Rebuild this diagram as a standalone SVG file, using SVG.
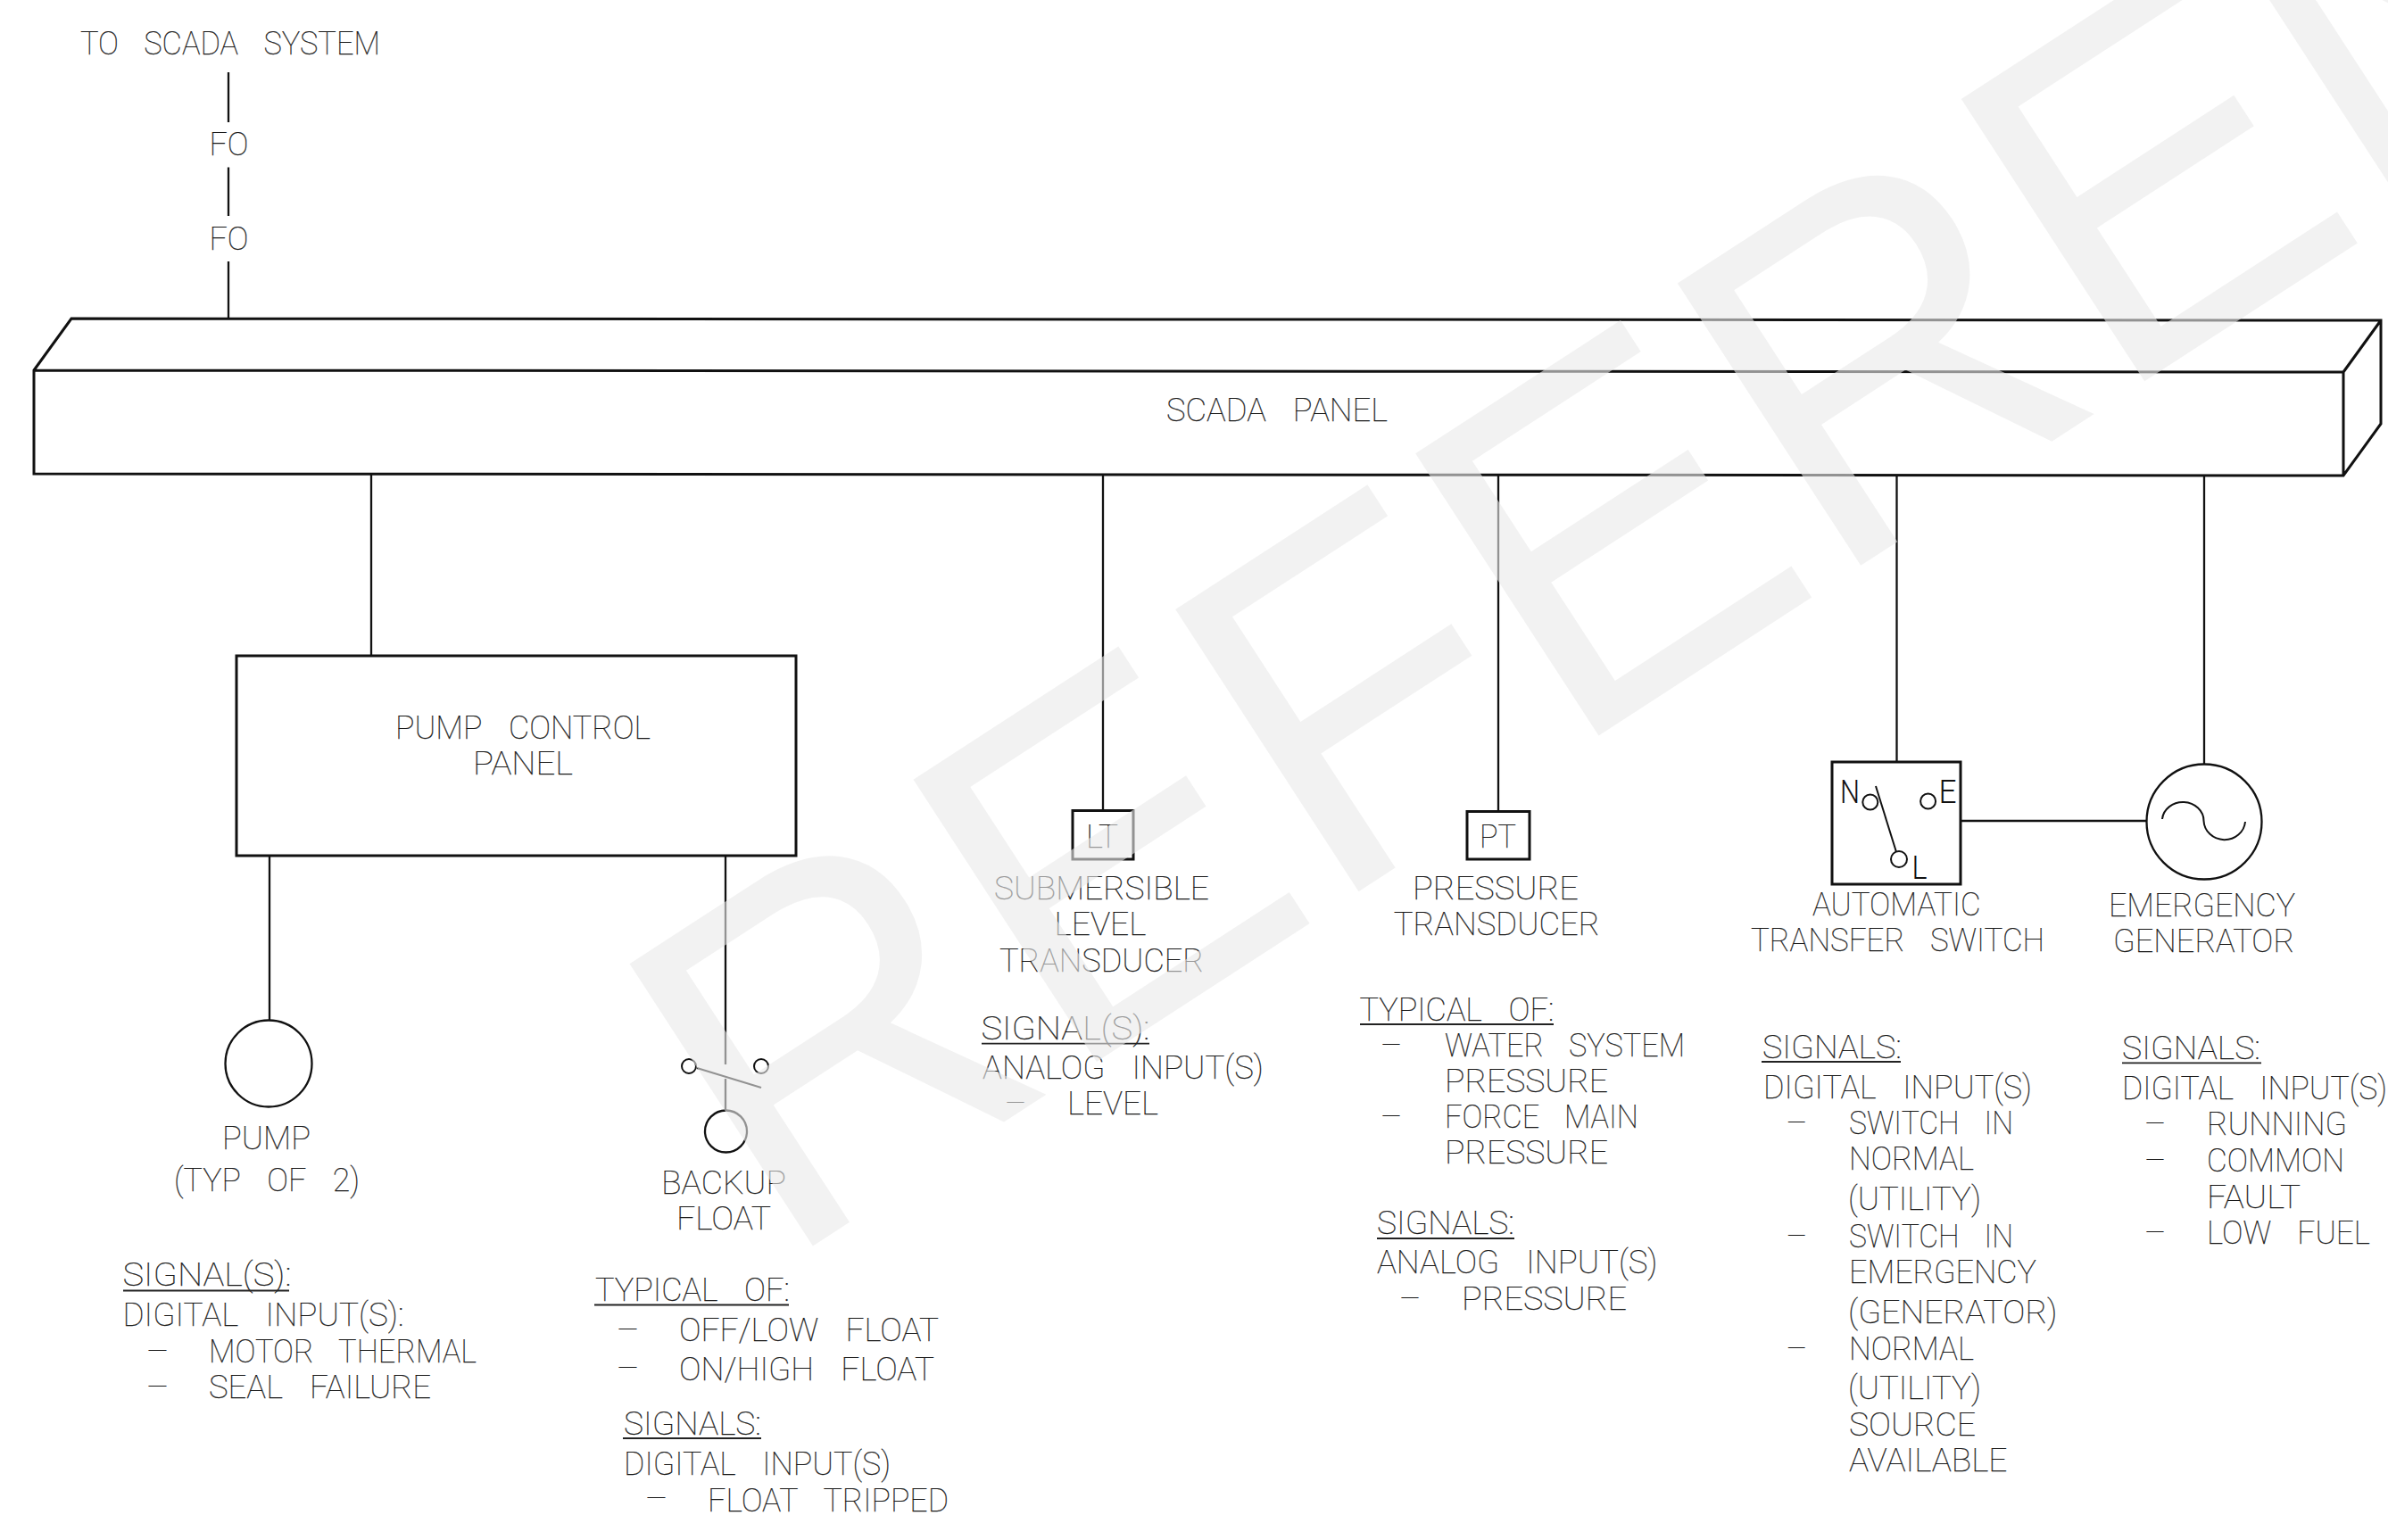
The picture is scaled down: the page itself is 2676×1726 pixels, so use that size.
<svg xmlns="http://www.w3.org/2000/svg" width="2676" height="1726" viewBox="0 0 2676 1726">
<style>
.l{fill:none;stroke:#111;stroke-width:2.3}
.b{fill:none;stroke:#111;stroke-width:3}
.c{fill:none;stroke:#111;stroke-width:2}
.t{font-family:Roboto,"Liberation Sans",sans-serif;font-weight:100;font-size:36px;fill:#1a1a1a;word-spacing:21px;stroke:#1a1a1a;stroke-width:.25}
.s{font-family:Roboto,"Liberation Sans",sans-serif;font-weight:300;font-size:36px;fill:#111}
.u{fill:none;stroke:#222;stroke-width:1.8}
.wm{font-family:"Liberation Sans",sans-serif;font-size:525px;fill:#e9e9e9;fill-opacity:.6}
</style>
<rect width="2676" height="1726" fill="#fff"/>
<g id="connectors" class="l">
<path d="M256 81V137M256 187.500V242M256 293V357"/>
<path d="M416 531V735M1236 532V908M1679 532V910M2125.500 533V854M2470 533V856"/>
<path d="M302 959V1143M813 959V1193M813 1209V1245"/>
<path d="M2197 920H2406"/>
</g>
<g id="to-scada">
<text class="t" x="90" y="61" textLength="336" lengthAdjust="spacingAndGlyphs">TO SCADA SYSTEM</text>
<text class="t" x="234.500" y="174" textLength="44" lengthAdjust="spacingAndGlyphs">FO</text>
<text class="t" x="234.500" y="280" textLength="44" lengthAdjust="spacingAndGlyphs">FO</text>
</g>
<g id="scada-panel">
<path class="b" d="M38 415L80 357L2668 359V475L2626 533L38 531ZM38 415L2626 417V533M2626 417L2668 359"/>
<text class="t" x="1307" y="471.500" textLength="248" lengthAdjust="spacingAndGlyphs">SCADA PANEL</text>
</g>
<g id="pump-control-panel">
<rect class="b" x="265" y="735" width="627" height="224"/>
<text class="t" x="443" y="827.500" textLength="286" lengthAdjust="spacingAndGlyphs">PUMP CONTROL</text>
<text class="t" x="530" y="867.500" textLength="112" lengthAdjust="spacingAndGlyphs">PANEL</text>
</g>
<g id="pump">
<circle class="l" cx="301" cy="1192" r="48.500"/>
<text class="t" x="249" y="1288.400" textLength="99" lengthAdjust="spacingAndGlyphs">PUMP</text>
<text class="t" x="195" y="1335" textLength="208" lengthAdjust="spacingAndGlyphs">(TYP OF 2)</text>
<text class="t" x="137.500" y="1441" textLength="189" lengthAdjust="spacingAndGlyphs">SIGNAL(S):</text>
<path class="u" d="M138 1446.500H324"/>
<text class="t" x="137.500" y="1486" textLength="315" lengthAdjust="spacingAndGlyphs">DIGITAL INPUT(S):</text>
<text class="t" x="165" y="1527" textLength="23" lengthAdjust="spacingAndGlyphs">—</text>
<text class="t" x="234" y="1527" textLength="300" lengthAdjust="spacingAndGlyphs">MOTOR THERMAL</text>
<text class="t" x="165" y="1567" textLength="23" lengthAdjust="spacingAndGlyphs">—</text>
<text class="t" x="234" y="1567" textLength="249" lengthAdjust="spacingAndGlyphs">SEAL FAILURE</text>
</g>
<g id="backup-float">
<circle class="c" cx="772" cy="1195" r="8"/>
<circle class="c" cx="853" cy="1195" r="8"/>
<path class="c" d="M781 1197L853 1219"/>
<circle class="l" cx="813.500" cy="1268" r="23.500"/>
<text class="t" x="741" y="1338" textLength="140" lengthAdjust="spacingAndGlyphs">BACKUP</text>
<text class="t" x="758" y="1377.500" textLength="106" lengthAdjust="spacingAndGlyphs">FLOAT</text>
<text class="t" x="667" y="1458" textLength="218" lengthAdjust="spacingAndGlyphs">TYPICAL OF:</text>
<path class="u" d="M666 1462.500H884"/>
<text class="t" x="692" y="1503" textLength="23" lengthAdjust="spacingAndGlyphs">—</text>
<text class="t" x="761" y="1503" textLength="291" lengthAdjust="spacingAndGlyphs">OFF/LOW FLOAT</text>
<text class="t" x="692" y="1546" textLength="23" lengthAdjust="spacingAndGlyphs">—</text>
<text class="t" x="761" y="1547" textLength="286" lengthAdjust="spacingAndGlyphs">ON/HIGH FLOAT</text>
<text class="t" x="699" y="1608" textLength="154" lengthAdjust="spacingAndGlyphs">SIGNALS:</text>
<path class="u" d="M698 1612H853"/>
<text class="t" x="699" y="1653" textLength="299" lengthAdjust="spacingAndGlyphs">DIGITAL INPUT(S)</text>
<text class="t" x="724" y="1692" textLength="23" lengthAdjust="spacingAndGlyphs">—</text>
<text class="t" x="793" y="1694" textLength="270" lengthAdjust="spacingAndGlyphs">FLOAT TRIPPED</text>
</g>
<g id="level-transducer">
<rect class="b" x="1202" y="908.500" width="68" height="54.500"/>
<text class="t" x="1217" y="950" textLength="36" lengthAdjust="spacingAndGlyphs">LT</text>
<text class="t" x="1114" y="1008" textLength="241" lengthAdjust="spacingAndGlyphs">SUBMERSIBLE</text>
<text class="t" x="1181.500" y="1048.400" textLength="103" lengthAdjust="spacingAndGlyphs">LEVEL</text>
<text class="t" x="1120" y="1088.600" textLength="229" lengthAdjust="spacingAndGlyphs">TRANSDUCER</text>
<text class="t" x="1099.400" y="1165" textLength="189" lengthAdjust="spacingAndGlyphs">SIGNAL(S):</text>
<path class="u" d="M1100 1169.700H1288"/>
<text class="t" x="1101" y="1209" textLength="315" lengthAdjust="spacingAndGlyphs">ANALOG INPUT(S)</text>
<text class="t" x="1127" y="1249" textLength="22" lengthAdjust="spacingAndGlyphs">—</text>
<text class="t" x="1196" y="1249" textLength="102" lengthAdjust="spacingAndGlyphs">LEVEL</text>
</g>
<g id="pressure-transducer">
<rect class="b" x="1644" y="909.500" width="70" height="53.500"/>
<text class="t" x="1658" y="949.600" textLength="41" lengthAdjust="spacingAndGlyphs">PT</text>
<text class="t" x="1583" y="1008" textLength="186" lengthAdjust="spacingAndGlyphs">PRESSURE</text>
<text class="t" x="1561.700" y="1048.400" textLength="231" lengthAdjust="spacingAndGlyphs">TRANSDUCER</text>
<text class="t" x="1523.400" y="1144" textLength="218" lengthAdjust="spacingAndGlyphs">TYPICAL OF:</text>
<path class="u" d="M1524 1148H1741"/>
<text class="t" x="1548" y="1184" textLength="22" lengthAdjust="spacingAndGlyphs">—</text>
<text class="t" x="1619" y="1184" textLength="269" lengthAdjust="spacingAndGlyphs">WATER SYSTEM</text>
<text class="t" x="1619" y="1224.400" textLength="183" lengthAdjust="spacingAndGlyphs">PRESSURE</text>
<text class="t" x="1548" y="1263.500" textLength="22" lengthAdjust="spacingAndGlyphs">—</text>
<text class="t" x="1619" y="1263.500" textLength="217" lengthAdjust="spacingAndGlyphs">FORCE MAIN</text>
<text class="t" x="1619" y="1304" textLength="183" lengthAdjust="spacingAndGlyphs">PRESSURE</text>
<text class="t" x="1543" y="1383" textLength="154" lengthAdjust="spacingAndGlyphs">SIGNALS:</text>
<path class="u" d="M1543 1388H1697"/>
<text class="t" x="1543" y="1426.500" textLength="314.500" lengthAdjust="spacingAndGlyphs">ANALOG INPUT(S)</text>
<text class="t" x="1569" y="1468" textLength="22" lengthAdjust="spacingAndGlyphs">—</text>
<text class="t" x="1638" y="1468" textLength="185" lengthAdjust="spacingAndGlyphs">PRESSURE</text>
</g>
<g id="automatic-transfer-switch">
<rect class="b" x="2053" y="854" width="144" height="137"/>
<circle class="c" cx="2095.800" cy="899" r="8.500"/>
<circle class="c" cx="2160.600" cy="898" r="8.500"/>
<circle class="c" cx="2128" cy="963" r="9"/>
<path class="c" d="M2102 881L2125 955"/>
<text class="s" x="2062" y="900" textLength="22" lengthAdjust="spacingAndGlyphs">N</text>
<text class="s" x="2172.500" y="900" textLength="20" lengthAdjust="spacingAndGlyphs">E</text>
<text class="s" x="2142.500" y="985" textLength="17" lengthAdjust="spacingAndGlyphs">L</text>
<text class="t" x="2031" y="1026" textLength="188.600" lengthAdjust="spacingAndGlyphs">AUTOMATIC</text>
<text class="t" x="1962" y="1065.700" textLength="329" lengthAdjust="spacingAndGlyphs">TRANSFER SWITCH</text>
<text class="t" x="1975" y="1186" textLength="156" lengthAdjust="spacingAndGlyphs">SIGNALS:</text>
<path class="u" d="M1974 1190H2130"/>
<text class="t" x="1976" y="1231" textLength="301" lengthAdjust="spacingAndGlyphs">DIGITAL INPUT(S)</text>
<text class="t" x="2002.500" y="1271.400" textLength="21.500" lengthAdjust="spacingAndGlyphs">—</text>
<text class="t" x="2072" y="1271.400" textLength="184" lengthAdjust="spacingAndGlyphs">SWITCH IN</text>
<text class="t" x="2072" y="1311.400" textLength="140" lengthAdjust="spacingAndGlyphs">NORMAL</text>
<text class="t" x="2071" y="1356" textLength="149" lengthAdjust="spacingAndGlyphs">(UTILITY)</text>
<text class="t" x="2002.500" y="1397.700" textLength="21.500" lengthAdjust="spacingAndGlyphs">—</text>
<text class="t" x="2072" y="1397.700" textLength="184" lengthAdjust="spacingAndGlyphs">SWITCH IN</text>
<text class="t" x="2072" y="1438" textLength="210" lengthAdjust="spacingAndGlyphs">EMERGENCY</text>
<text class="t" x="2071" y="1482.600" textLength="234.500" lengthAdjust="spacingAndGlyphs">(GENERATOR)</text>
<text class="t" x="2002.500" y="1523.700" textLength="21.500" lengthAdjust="spacingAndGlyphs">—</text>
<text class="t" x="2072" y="1523.700" textLength="140" lengthAdjust="spacingAndGlyphs">NORMAL</text>
<text class="t" x="2071" y="1567.500" textLength="149" lengthAdjust="spacingAndGlyphs">(UTILITY)</text>
<text class="t" x="2072" y="1609" textLength="142" lengthAdjust="spacingAndGlyphs">SOURCE</text>
<text class="t" x="2072" y="1648.600" textLength="177.500" lengthAdjust="spacingAndGlyphs">AVAILABLE</text>
</g>
<g id="emergency-generator">
<circle class="l" cx="2470" cy="921" r="64.500"/>
<path class="c" d="M2423 918A23.300 21 0 0 1 2469.500 920A23.300 22 0 0 0 2516 921"/>
<text class="t" x="2363" y="1026.700" textLength="209" lengthAdjust="spacingAndGlyphs">EMERGENCY</text>
<text class="t" x="2368" y="1066.700" textLength="203" lengthAdjust="spacingAndGlyphs">GENERATOR</text>
<text class="t" x="2378" y="1187" textLength="155" lengthAdjust="spacingAndGlyphs">SIGNALS:</text>
<path class="u" d="M2378 1191.400H2534"/>
<text class="t" x="2378" y="1231.800" textLength="297" lengthAdjust="spacingAndGlyphs">DIGITAL INPUT(S)</text>
<text class="t" x="2404" y="1272" textLength="22" lengthAdjust="spacingAndGlyphs">—</text>
<text class="t" x="2473" y="1272" textLength="157" lengthAdjust="spacingAndGlyphs">RUNNING</text>
<text class="t" x="2404" y="1313" textLength="22" lengthAdjust="spacingAndGlyphs">—</text>
<text class="t" x="2473" y="1313" textLength="154" lengthAdjust="spacingAndGlyphs">COMMON</text>
<text class="t" x="2473" y="1353.500" textLength="105" lengthAdjust="spacingAndGlyphs">FAULT</text>
<text class="t" x="2404" y="1394" textLength="22" lengthAdjust="spacingAndGlyphs">—</text>
<text class="t" x="2473" y="1394" textLength="183" lengthAdjust="spacingAndGlyphs">LOW FUEL</text>
</g>
<text class="wm" transform="translate(874.800 1419.900) rotate(-33) scale(1 1.044)">REFERENCE</text>
</svg>
